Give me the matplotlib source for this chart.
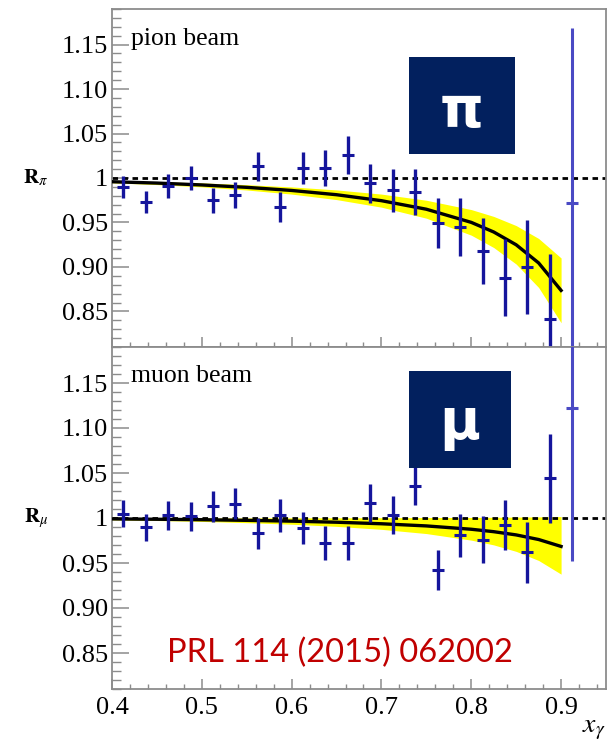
import matplotlib
matplotlib.use('Agg')
import matplotlib.pyplot as plt
from matplotlib.ticker import FixedLocator, MultipleLocator
from matplotlib.patches import Rectangle

# ---------------- data ----------------
x_bins = [0.4125, 0.4375, 0.4625, 0.4875, 0.5125, 0.5375, 0.5625, 0.5875,
          0.6125, 0.6375, 0.6625, 0.6875, 0.7125, 0.7375, 0.7625, 0.7875,
          0.8125, 0.8375, 0.8625, 0.8875, 0.9125]

pion_R = [0.990, 0.973, 0.991, 1.000, 0.975, 0.981, 1.013, 0.967, 1.011, 1.011,
          1.026, 0.994, 0.986, 0.984, 0.949, 0.945, 0.918, 0.888, 0.900, 0.842, 0.972]
pion_err = [0.012, 0.012, 0.013, 0.014, 0.014, 0.015, 0.016, 0.017, 0.018, 0.020,
            0.021, 0.022, 0.024, 0.026, 0.028, 0.033, 0.037, 0.043, 0.053, 0.073, 0.197]

muon_R = [1.005, 0.990, 1.003, 1.002, 1.013, 1.016, 0.983, 1.003, 0.989, 0.972,
          0.972, 1.017, 1.003, 1.036, 0.942, 0.981, 0.976, 0.992, 0.962, 1.044, 1.122]
muon_err = [0.015, 0.015, 0.016, 0.016, 0.017, 0.017, 0.017, 0.018, 0.018, 0.019,
            0.019, 0.021, 0.021, 0.022, 0.022, 0.024, 0.026, 0.028, 0.034, 0.049, 0.170]

fit_x = [0.40, 0.45, 0.50, 0.55, 0.60, 0.65, 0.70, 0.75, 0.80, 0.825, 0.85, 0.875, 0.90]
pion_fit = [0.9958, 0.9943, 0.9922, 0.9895, 0.9860, 0.9812, 0.9745, 0.9649, 0.9501,
            0.9393, 0.9249, 0.9045, 0.8736]
pion_band_hi = [0.9970, 0.9959, 0.9945, 0.9925, 0.9900, 0.9866, 0.9819, 0.9750, 0.9645,
                0.9568, 0.9465, 0.9320, 0.9101]
pion_band_lo = [0.9946, 0.9926, 0.9900, 0.9865, 0.9819, 0.9757, 0.9672, 0.9548, 0.9357,
                0.9218, 0.9032, 0.8769, 0.8372]

muon_fit = [0.9990, 0.9986, 0.9981, 0.9974, 0.9965, 0.9953, 0.9936, 0.9912, 0.9875,
            0.9848, 0.9812, 0.9761, 0.9684]
muon_band_hi = [1.0001, 1.0001, 1.0001, 1.0001, 1.0002, 1.0002, 1.0003, 1.0005, 1.0006,
                1.0008, 1.0010, 1.0012, 1.0016]
muon_band_lo = [0.9979, 0.9972, 0.9962, 0.9948, 0.9931, 0.9907, 0.9874, 0.9827, 0.9754,
                0.9701, 0.9629, 0.9528, 0.9376]

y_ticks = [0.85, 0.90, 0.95, 1.00, 1.05, 1.10, 1.15]
y_labels = ['0.85', '0.90', '0.95', '1', '1.05', '1.10', '1.15']
x_ticks = [0.4, 0.5, 0.6, 0.7, 0.8, 0.9]
x_labels = ['0.4', '0.5', '0.6', '0.7', '0.8', '0.9']

# ---------------- figure ----------------
plt.rcParams['mathtext.fontset'] = 'stix'
W, H = 611, 747
fig = plt.figure(figsize=(W / 100, H / 100), dpi=100)


def px_rect(l, t, r, b):
    return [l / W, 1 - b / H, (r - l) / W, (b - t) / H]


ax1 = fig.add_axes(px_rect(112, 9, 606, 347))
ax2 = fig.add_axes(px_rect(112, 347, 606, 689))

SERIF = 'Liberation Serif'
DATA_C = '#15159C'
LAST_C = '#4A4AC4'
GRAY = '#8C8C8C'

for ax, R, E, fit, bhi, blo in [
        (ax1, pion_R, pion_err, pion_fit, pion_band_hi, pion_band_lo),
        (ax2, muon_R, muon_err, muon_fit, muon_band_hi, muon_band_lo)]:
    ax.set_xlim(0.4, 0.95)
    ax.set_ylim(0.81, 1.19)
    ax.fill_between(fit_x, blo, bhi, color='#FFFF00', lw=0, zorder=1)
    ax.axhline(1.0, color='black', lw=2.0, ls=(0, (2.0, 1.6)), zorder=2)
    ax.plot(fit_x, fit, color='black', lw=2.4, zorder=3)
    ax.errorbar(x_bins[:-1], R[:-1], yerr=E[:-1], fmt='none', ecolor=DATA_C,
                elinewidth=2.4, capsize=0, zorder=4)
    ax.plot(x_bins[:-1], R[:-1], ls='none', marker='_', ms=9, mew=2.2,
            color=DATA_C, zorder=5)
    ax.errorbar(x_bins[-1:], R[-1:], yerr=E[-1:], fmt='none', ecolor=LAST_C,
                elinewidth=2.2, capsize=0, zorder=4)
    ax.plot(x_bins[-1:], R[-1:], ls='none', marker='_', ms=9, mew=2.2,
            color=LAST_C, zorder=5)

    for s in ax.spines.values():
        s.set_color(GRAY)
        s.set_linewidth(1.3)
    ax.yaxis.set_major_locator(FixedLocator(y_ticks))
    ax.yaxis.set_minor_locator(MultipleLocator(0.01))
    ax.xaxis.set_major_locator(FixedLocator(x_ticks))
    ax.xaxis.set_minor_locator(MultipleLocator(0.02))
    ax.set_yticklabels(y_labels, fontfamily=SERIF, fontsize=19)
    ax.tick_params(axis='y', which='major', direction='in', length=12, width=1.1,
                   color=GRAY, pad=3, left=True, right=False)
    ax.tick_params(axis='y', which='minor', direction='in', length=6.5, width=1.0,
                   color=GRAY, left=True, right=False)
    ax.tick_params(axis='x', which='major', direction='in', length=7, width=1.1,
                   color=GRAY, pad=6, top=False, bottom=True)
    ax.tick_params(axis='x', which='minor', direction='in', length=3.6, width=1.0,
                   color=GRAY, top=False, bottom=True)

ax1.set_xticklabels([])
ax2.set_xticklabels(x_labels, fontfamily=SERIF, fontsize=19)

ax1.text(0.421, 1.149, 'pion beam', fontfamily=SERIF, fontsize=18.5, va='baseline')
ax2.text(0.421, 1.151, 'muon beam', fontfamily=SERIF, fontsize=18.5, va='baseline')

fig.text(36 / W, 1 - 178 / H, r'$\mathbf{R}_{\pi}$', fontsize=15, ha='center', va='center')
fig.text(36 / W, 1 - 518 / H, r'$\mathbf{R}_{\mu}$', fontsize=15, ha='center', va='center')
fig.text(594 / W, 1 - 728 / H, r'$x_{\gamma}$', fontsize=20, ha='center', va='center')

fig.text(340 / W, 1 - 653 / H, 'PRL 114 (2015) 062002', color='#C00000',
         fontfamily='Lato', fontsize=23.5, ha='center', va='center')

BOX_C = '#02205E'
for (l, t, r, b, sym, cy) in [(409, 57, 515, 154, 'π', 112), (409, 371, 511, 468, 'μ', 424)]:
    fig.add_artist(Rectangle((l / W, 1 - b / H), (r - l) / W, (b - t) / H,
                             transform=fig.transFigure, facecolor=BOX_C,
                             edgecolor='none', zorder=10))
    fig.text((l + r) / 2 / W, 1 - cy / H, sym, color='white', fontsize=40,
             fontweight='bold', fontfamily='DejaVu Sans', ha='center', va='center',
             zorder=11)

fig.savefig('out.png', dpi=100)
